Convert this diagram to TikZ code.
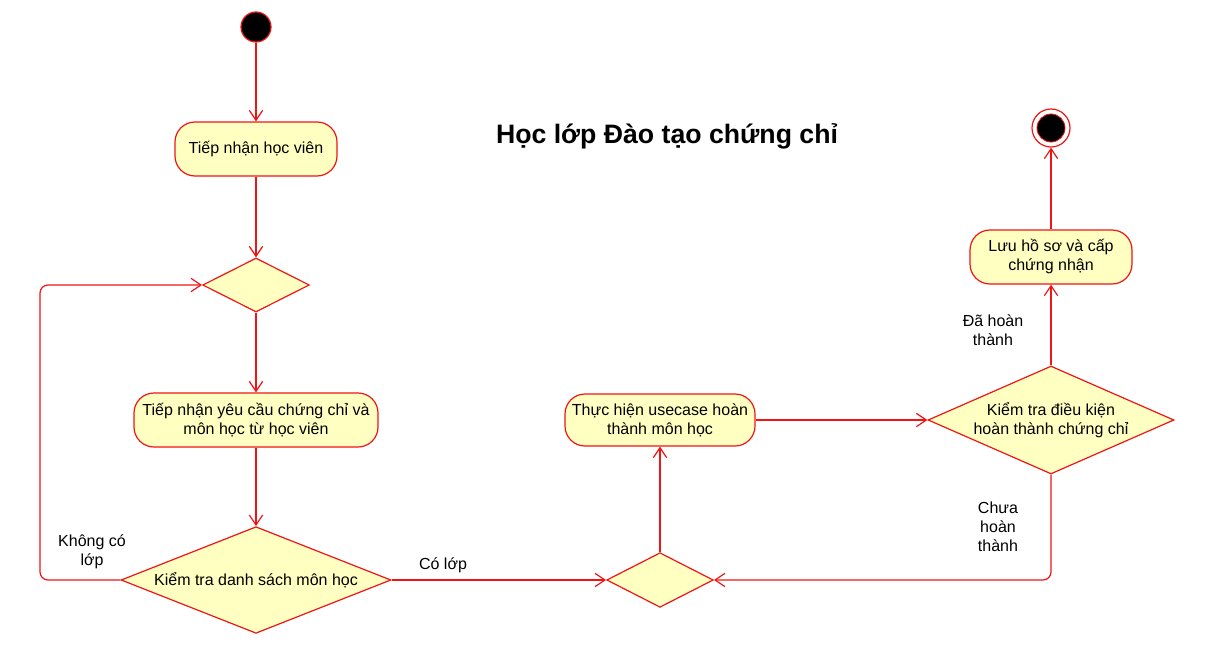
\documentclass[tikz,border=0pt]{standalone}
\usepackage{fontspec}
\setmainfont{Liberation Sans}
\usetikzlibrary{shapes.geometric,arrows.meta}
\definecolor{umlred}{RGB}{240,20,20}
\definecolor{umlfill}{RGB}{255,255,194}
\begin{document}
\begin{tikzpicture}[x=0.75pt,y=-0.75pt,
  every node/.style={font=\fontsize{12}{14.25}\selectfont, text=black},
  act/.style={draw=umlred, fill=umlfill, line width=0.9pt, rounded corners=15pt,
    minimum height=40.5pt, align=center, inner sep=2pt},
  dec/.style={draw=umlred, fill=umlfill, line width=0.9pt, shape=diamond, inner sep=0pt},
  startn/.style={circle, draw=umlred, fill=black, line width=0.9pt, minimum size=22.5pt, inner sep=0pt},
  endo/.style={circle, draw=umlred, fill=white, line width=0.9pt, minimum size=28.5pt, inner sep=0pt},
  endi/.style={circle, draw=umlred, fill=black, line width=0.6pt, minimum size=21pt, inner sep=0pt},
  flow/.style={draw=umlred, line width=0.9pt, -{Straight Barb[length=7.5pt,width=10pt]}},
  lbl/.style={align=center, inner sep=0pt}
]
\useasboundingbox (0,0) rectangle (1212,667);

\node[startn] (s) at (256,27) {};
\node[act, minimum width=121.5pt] (a1) at (256,149) {Tiếp nhận học viên};
\node[dec, minimum width=80pt, minimum height=40.5pt] (d1) at (256,285) {};
\node[act, minimum width=183pt] (a2) at (256,420) {Tiếp nhận yêu cầu chứng chỉ và\\môn học từ học viên};
\node[dec, minimum width=202.5pt, minimum height=80pt] (d2) at (256,580) {};
\node[lbl] (d2t) at (d2.center) {Kiểm tra danh sách môn học};
\node[dec, minimum width=80pt, minimum height=41pt] (d3) at (660,580) {};
\node[act, minimum width=142.5pt, minimum height=39pt] (a3) at (660,420) {Thực hiện usecase hoàn\\thành môn học};
\node[dec, minimum width=184.5pt, minimum height=81pt] (d4) at (1051,420) {};
\node[lbl] (d4t) at (d4.center) {Kiểm tra điều kiện\\hoàn thành chứng chỉ};
\node[act, minimum width=121.5pt] (a4) at (1051,257) {Lưu hồ sơ và cấp\\chứng nhận};
\node[endo] (e) at (1051,128) {};
\node[endi] (ei) at (e.center) {};

\node[font=\bfseries\fontsize{20}{24}\selectfont] (title) at (667,136) {Học lớp Đào tạo chứng chỉ};

\draw[flow] (s) -- (a1);
\draw[flow] (a1) -- (d1);
\draw[flow] (d1) -- (a2);
\draw[flow] (a2) -- (d2);
\draw[flow, rounded corners=6pt] (d2.west) -- (40,580) -- (40,285) -- (d1.west);
\draw[flow] (d2.east) -- (d3.west);
\draw[flow] (d3.north) -- (a3.south);
\draw[flow] (a3.east) -- (d4.west);
\draw[flow, rounded corners=6pt] (d4.south) -- (1051,580) -- (d3.east);
\draw[flow] (d4.north) -- (a4.south);
\draw[flow] (a4.north) -- (e.south);

\node[lbl] (l1) at (92,552) {Không có\\lớp};
\node[lbl] (l2) at (443,565) {Có lớp};
\node[lbl] (l3) at (998,527) {Chưa\\hoàn\\thành};
\node[lbl] (l4) at (993,330) {Đã hoàn\\thành};
\end{tikzpicture}
\end{document}
